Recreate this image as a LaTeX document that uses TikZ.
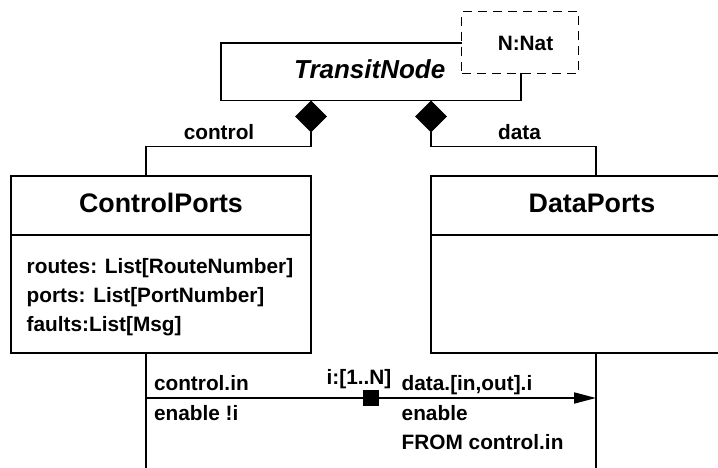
\documentclass[tikz,border=0pt]{standalone}
\usepackage{fontspec}
\setmainfont{Liberation Sans}
\usetikzlibrary{shapes.geometric,arrows.meta}
\tikzset{
  ln/.style={line width=1.8pt},
  umlbox/.style={draw, ln, rectangle, anchor=north west, outer sep=0pt, inner sep=0pt, fill=white},
  dashbox/.style={draw, line width=1.4pt, dash pattern=on 9pt off 6pt, rectangle, anchor=north west, outer sep=0pt, inner sep=0pt, fill=white},
  agg/.style={draw, diamond, fill=black, inner sep=0pt, outer sep=0pt, minimum width=31pt, minimum height=31pt, line width=0.6pt},
  port/.style={rectangle, fill=black, inner sep=0pt, outer sep=0pt, minimum width=16.5pt, minimum height=16.5pt},
  lbl/.style={inner sep=0pt, outer sep=0pt, font=\fontsize{20.8}{24}\selectfont\bfseries},
  ttl/.style={inner sep=0pt, outer sep=0pt, font=\fontsize{26.8}{30}\selectfont\bfseries},
}
\begin{document}
\begin{tikzpicture}[x=1pt,y=-1pt]
\useasboundingbox (0,0) rectangle (718,468);
\clip (0,0) rectangle (718,468);
% TransitNode
\node[umlbox, minimum width=299.7pt, minimum height=57.5pt] (tn) at (221,43) {};
\node[dashbox, minimum width=116.6pt, minimum height=61.6pt] (par) at (461.7,11.7) {};
\node[ttl, font=\fontsize{26}{30}\selectfont\bfseries\itshape, anchor=base] (tntxt) at (369.7,79) {TransitNode};
\node[lbl, anchor=base] (partxt) at (525.5,50.7) {N:Nat};
% diamonds
\node[agg] (d1) at (311,116.5) {};
\node[agg] (d2) at (431,116.5) {};
\node[lbl, anchor=base] (ctl) at (219,139.3) {control};
\node[lbl, anchor=base] (dat) at (519.5,139.3) {data};
% ControlPorts
\node[umlbox, minimum width=300pt, minimum height=177pt] (cp) at (11,176) {};
\draw[ln] (11,235) -- (311,235);
\node[ttl, anchor=base] (cptxt) at (161,212.7) {ControlPorts};
\node[lbl, anchor=base west] (a1) at (26.7,273.3) {routes: List[RouteNumber]};
\node[lbl, anchor=base west] (a2) at (26.7,302.7) {ports: List[PortNumber]};
\node[lbl, anchor=base west] (a3) at (26.7,331.7) {faults:List[Msg]};
% DataPorts
\node[umlbox, minimum width=322pt, minimum height=177pt] (dp) at (431,176) {};
\draw[ln] (431,235) -- (753,235);
\node[ttl, anchor=base] (dptxt) at (592,212.7) {DataPorts};
% connector coordinates
\coordinate (cptop) at (146,176);
\coordinate (dptop) at (596,176);
\coordinate (cpbot) at (146,353);
\coordinate (dpbot) at (596,353);
\coordinate (cpend) at (146,472);
\coordinate (dpend) at (596,472);
\coordinate (arrS) at (146,398);
\coordinate (arrE) at (596,398);
\draw[ln] (d1.south) -- ++(0,14.5) -| (cptop);
\draw[ln] (d2.south) -- ++(0,14.5) -| (dptop);
\draw[ln] (cpbot) -- (cpend);
\draw[ln] (dpbot) -- (dpend);
\draw[ln, -{Triangle[length=22pt,width=11pt]}] (arrS) -- (arrE);
\node[port] (sq) at (371,398) {};
% labels on the link
\node[lbl, anchor=base west] (l1) at (154,390.7) {control.in};
\node[lbl, anchor=base west] (l2) at (154,420) {enable !i};
\node[lbl, anchor=base west] (l3) at (326.7,384) {i:[1..N]};
\node[lbl, anchor=base west] (r1) at (401.7,390.7) {data.[in,out].i};
\node[lbl, anchor=base west] (r2) at (401.7,420) {enable};
\node[lbl, anchor=base west] (r3) at (401.7,449.3) {FROM control.in};
\end{tikzpicture}
\end{document}
